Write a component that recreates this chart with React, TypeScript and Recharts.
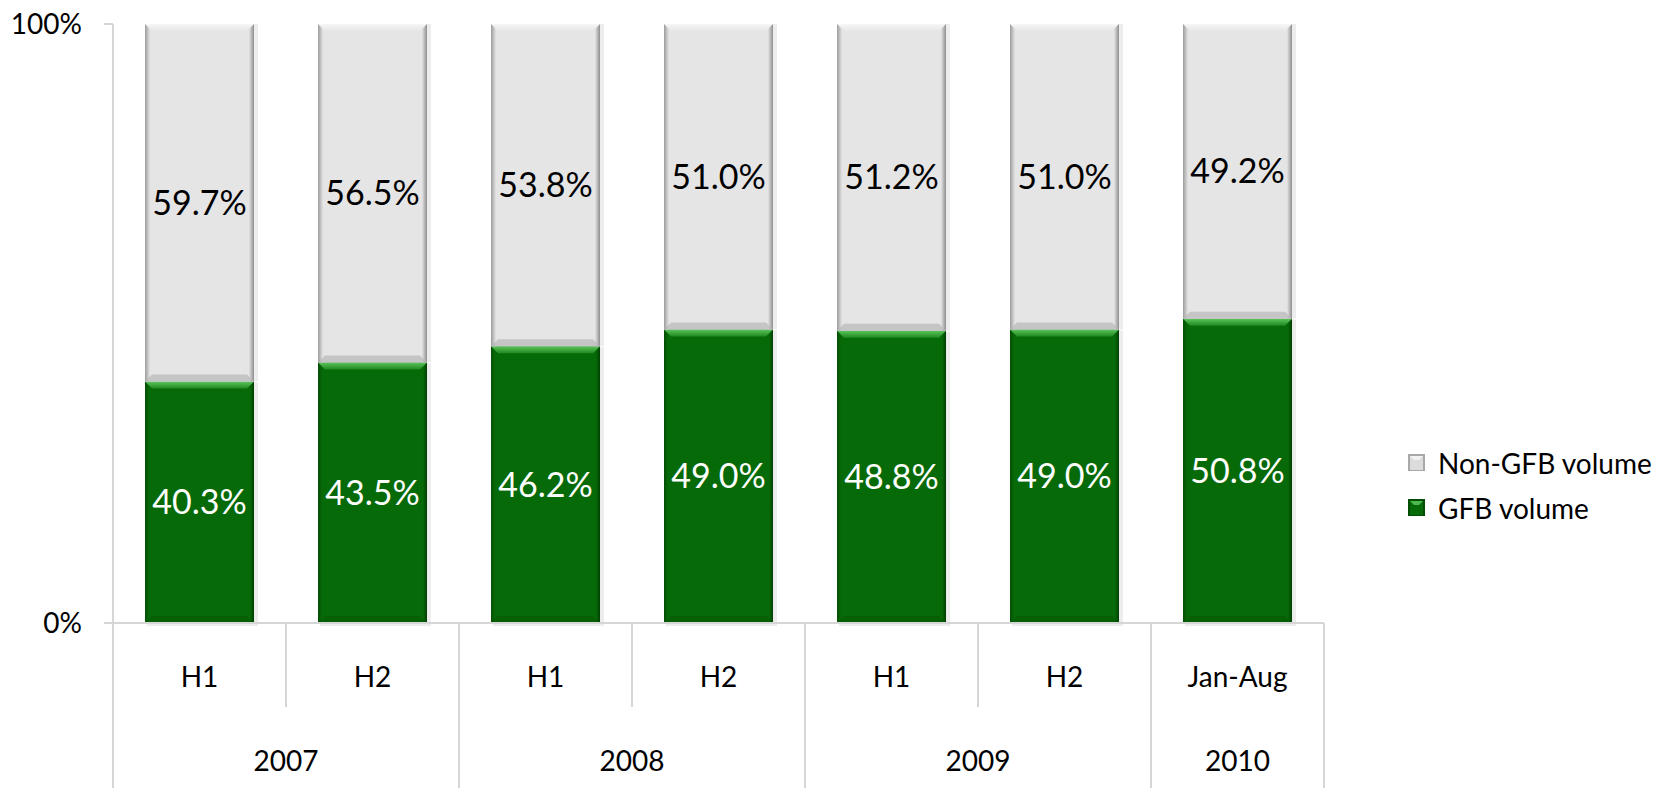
import React from 'react';
import { BarChart, Bar, XAxis, YAxis, LabelList, Legend } from 'recharts';

const periods = ['H1', 'H2', 'H1', 'H2', 'H1', 'H2', 'Jan-Aug'];
const years = ['2007', '2007', '2008', '2008', '2009', '2009', '2010'];
const gfbVolume = [40.3, 43.5, 46.2, 49.0, 48.8, 49.0, 50.8];
const nonGfbVolume = [59.7, 56.5, 53.8, 51.0, 51.2, 51.0, 49.2];
const yTicks = [0, 100];

const data = periods.map((p, i) => ({
  period: p,
  year: years[i],
  gfb: gfbVolume[i],
  nonGfb: nonGfbVolume[i],
}));

const W = 1658;
const H = 788;
const MARGIN = { top: 24, right: 334, bottom: 0, left: 0 };
const Y_AXIS_W = 113;
const X_AXIS_H = 165;
const FONT = 'Lato, "Open Sans", sans-serif';
const AXIS_FS = 28;
const LABEL_FS = 34;
const LEGEND_FS = 28;
const LINE = '#D6D6D6';

const GreenBar = (props: any) => {
  const { x, y, width, height } = props;
  if (!height || height <= 0) return null;
  const b = 7;
  return (
    <g>
      <defs>
        <linearGradient id="gTop" x1="0" y1="0" x2="0" y2="1">
          <stop offset="0" stopColor="#5CC45C" />
          <stop offset="1" stopColor="#1F8A20" />
        </linearGradient>
        <linearGradient id="gLeft" x1="0" y1="0" x2="1" y2="0">
          <stop offset="0" stopColor="#034D04" />
          <stop offset="1" stopColor="#076A08" />
        </linearGradient>
        <linearGradient id="gRight" x1="0" y1="0" x2="1" y2="0">
          <stop offset="0" stopColor="#076A08" />
          <stop offset="1" stopColor="#023F03" />
        </linearGradient>
      </defs>
      <rect x={x + 2} y={y + 1} width={width + 2} height={height + 2} fill="#000" opacity={0.07} />
      <rect x={x} y={y} width={width} height={height} fill="#076A08" />
      <rect x={x} y={y} width={4} height={height} fill="url(#gLeft)" />
      <rect x={x + width - 4} y={y} width={4} height={height} fill="url(#gRight)" />
      <polygon
        points={`${x},${y} ${x + width},${y} ${x + width - b},${y + b} ${x + b},${y + b}`}
        fill="url(#gTop)"
      />
      <polygon
        points={`${x},${y + height} ${x + width},${y + height} ${x + width - b},${y + height - b} ${x + b},${y + height - b}`}
        fill="#045804"
        opacity={0.6}
      />
    </g>
  );
};

const GrayBar = (props: any) => {
  const { x, y, width, height } = props;
  if (!height || height <= 0) return null;
  const b = 7;
  return (
    <g>
      <defs>
        <linearGradient id="grLeft" x1="0" y1="0" x2="1" y2="0">
          <stop offset="0" stopColor="#9C9C9C" />
          <stop offset="1" stopColor="#E4E4E4" />
        </linearGradient>
        <linearGradient id="grRight" x1="0" y1="0" x2="1" y2="0">
          <stop offset="0" stopColor="#E4E4E4" />
          <stop offset="1" stopColor="#8E8E8E" />
        </linearGradient>
        <linearGradient id="grTop" x1="0" y1="0" x2="0" y2="1">
          <stop offset="0" stopColor="#F7F7F7" />
          <stop offset="1" stopColor="#E6E6E6" />
        </linearGradient>
      </defs>
      <rect x={x + 2} y={y} width={width + 2} height={height} fill="#000" opacity={0.07} />
      <rect x={x} y={y} width={width} height={height} fill="#E5E5E5" />
      <rect x={x} y={y} width={5} height={height} fill="url(#grLeft)" />
      <rect x={x + width - 5} y={y} width={5} height={height} fill="url(#grRight)" />
      <polygon
        points={`${x},${y} ${x + width},${y} ${x + width - b},${y + b} ${x + b},${y + b}`}
        fill="url(#grTop)"
      />
      <polygon
        points={`${x},${y + height} ${x + width},${y + height} ${x + width - b},${y + height - b} ${x + b},${y + height - b}`}
        fill="#B8B8B8"
        opacity={0.7}
      />
    </g>
  );
};

const XTick = (props: any) => {
  const { x, y, payload } = props;
  const i: number = payload.index ?? props.index ?? 0;
  const plotW = W - MARGIN.right - Y_AXIS_W;
  const half: number = payload.offset || plotW / periods.length / 2;
  const left = x - half;
  const right = x + half;
  const yr = years[i];
  const isGroupEnd = i === years.length - 1 || years[i + 1] !== yr;
  const isGroupStart = i === 0 || years[i - 1] !== yr;
  let yearLabel = null;
  if (isGroupStart) {
    let n = 1;
    while (i + n < years.length && years[i + n] === yr) n++;
    yearLabel = (
      <text x={left + n * half} y={y + 137} textAnchor="middle" dominantBaseline="central"
        fontFamily={FONT} fontSize={AXIS_FS} fill="#000">
        {yr}
      </text>
    );
  }
  return (
    <g>
      <text x={x} y={y + 53} textAnchor="middle" dominantBaseline="central"
        fontFamily={FONT} fontSize={AXIS_FS} fill="#000">
        {periods[i]}
      </text>
      {i === 0 && <line x1={left} x2={left} y1={y} y2={y + X_AXIS_H} stroke={LINE} strokeWidth={2} />}
      <line x1={right} x2={right} y1={y} y2={isGroupEnd ? y + X_AXIS_H : y + 84} stroke={LINE} strokeWidth={2} />
      {yearLabel}
    </g>
  );
};

const LegendContent = () => {
  const items = [
    { name: 'Non-GFB volume', fill: '#DCDCDC', edge: '#A8A8A8', top: '#F2F2F2' },
    { name: 'GFB volume', fill: '#076A08', edge: '#034D04', top: '#4DB84D' },
  ];
  return (
    <div style={{ fontFamily: FONT, fontSize: LEGEND_FS, color: '#000' }}>
      {items.map((it) => (
        <div key={it.name} style={{ display: 'flex', alignItems: 'center', height: 45 }}>
          <svg width={17} height={17} style={{ marginRight: 13 }}>
            <rect x={0} y={0} width={17} height={17} fill={it.edge} />
            <rect x={2} y={2} width={13} height={14} fill={it.fill} />
            <polygon points="2,2 15,2 11,6 6,6" fill={it.top} />
          </svg>
          <span>{it.name}</span>
        </div>
      ))}
    </div>
  );
};

export default function App() {
  return (
    <div style={{ position: 'absolute', left: 0, top: 0, width: W, height: H, background: '#fff' }}>
      <BarChart width={W} height={H} data={data} margin={MARGIN} barCategoryGap="18.5%">
        <XAxis
          dataKey="period"
          height={X_AXIS_H}
          interval={0}
          tickLine={false}
          tickSize={0}
          tickMargin={0}
          axisLine={{ stroke: LINE, strokeWidth: 2 }}
          tick={<XTick />}
        />
        <YAxis
          width={Y_AXIS_W}
          domain={[0, 100]}
          ticks={yTicks}
          tickFormatter={(v: number) => `${v}%`}
          tickSize={9}
          tickMargin={22}
          axisLine={{ stroke: LINE, strokeWidth: 2 }}
          tickLine={{ stroke: LINE, strokeWidth: 2 }}
          tick={{ fill: '#000', fontSize: AXIS_FS, fontFamily: FONT }}
        />
        <Legend
          layout="vertical"
          align="center"
          verticalAlign="middle"
          wrapperStyle={{ left: 1408, top: 440, width: 250 }}
          content={<LegendContent />}
        />
        <Bar dataKey="gfb" name="GFB volume" stackId="a" fill="#076A08" shape={<GreenBar />} isAnimationActive={false}>
          <LabelList dataKey="gfb" position="center" fill="#FFFFFF" fontSize={LABEL_FS} fontFamily={FONT}
            formatter={(v: any) => `${Number(v).toFixed(1)}%`} />
        </Bar>
        <Bar dataKey="nonGfb" name="Non-GFB volume" stackId="a" fill="#E5E5E5" shape={<GrayBar />} isAnimationActive={false}>
          <LabelList dataKey="nonGfb" position="center" fill="#000000" fontSize={LABEL_FS} fontFamily={FONT}
            formatter={(v: any) => `${Number(v).toFixed(1)}%`} />
        </Bar>
      </BarChart>
    </div>
  );
}
